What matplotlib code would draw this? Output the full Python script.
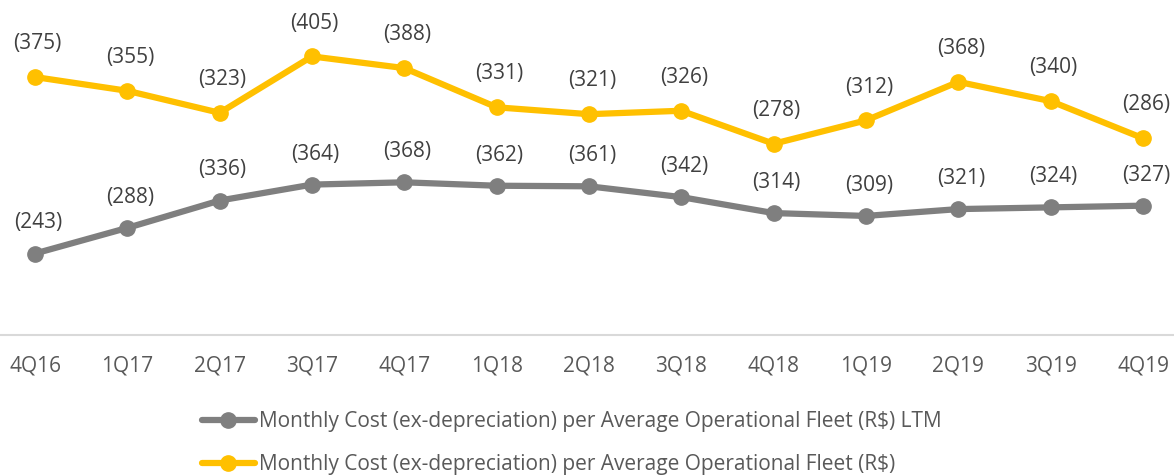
import matplotlib
matplotlib.use("Agg")
import matplotlib.pyplot as plt

quarters = ["4Q16", "1Q17", "2Q17", "3Q17", "4Q17", "1Q18", "2Q18",
            "3Q18", "4Q18", "1Q19", "2Q19", "3Q19", "4Q19"]
cost_quarter = [375, 355, 323, 405, 388, 331, 321, 326, 278, 312, 368, 340, 286]
cost_ltm = [243, 288, 336, 364, 368, 362, 361, 342, 314, 309, 321, 324, 327]

label_quarter = "Monthly Cost (ex-depreciation) per Average Operational Fleet (R$)"
label_ltm = "Monthly Cost (ex-depreciation) per Average Operational Fleet (R$) LTM"

plt.rcParams["font.family"] = ["Open Sans", "DejaVu Sans"]

YELLOW = "#FFC000"
GRAY = "#7F7F7F"
TEXT = "#404040"
FS = 15

W, H = 1174, 475
fig = plt.figure(figsize=(W / 100, H / 100), dpi=100)

x = list(range(len(quarters)))
x0 = 35
step = (1143 - 35) / 12
xlim = (-x0 / step, 12 + (W - 1143) / step)

bottom_px = 335
ax = fig.add_axes([0, 1 - bottom_px / H, 1, bottom_px / H])
ax2 = ax.twinx()

# primary: quarterly (yellow), secondary: LTM (gray)
ax.set_ylim(0, 487)
ax2.set_ylim(100, 688)
for a in (ax, ax2):
    a.set_xlim(*xlim)
    for s in a.spines.values():
        s.set_visible(False)
    a.set_yticks([])
    a.patch.set_visible(False)

ax.spines["bottom"].set_visible(True)
ax.spines["bottom"].set_color("#D9D9D9")
ax.spines["bottom"].set_linewidth(1.5)

l1, = ax.plot(x, cost_quarter, color=YELLOW, lw=4.5, marker="o", ms=11,
              solid_capstyle="round", label=label_quarter, zorder=3)
l2, = ax2.plot(x, cost_ltm, color=GRAY, lw=4.5, marker="o", ms=11,
               solid_capstyle="round", label=label_ltm, zorder=3)

for xi, v in zip(x, cost_quarter):
    ax.annotate(f"({v})", (xi, v), xytext=(2, 24), textcoords="offset points",
                ha="center", va="center", fontsize=FS, color=TEXT)
for xi, v in zip(x, cost_ltm):
    ax2.annotate(f"({v})", (xi, v), xytext=(2, 22), textcoords="offset points",
                 ha="center", va="center", fontsize=FS, color=TEXT)

ax.set_xticks(x)
ax.set_xticklabels(quarters, fontsize=FS, color="#595959")
ax.tick_params(axis="x", length=0, pad=15)

fig.legend(handles=[l2, l1], loc="upper left", bbox_to_anchor=(192 / W, 1 - 401 / H),
           frameon=False, fontsize=FS, handlelength=2.5, handletextpad=0.2,
           labelspacing=1.05, borderpad=0, labelcolor="#595959")

fig.savefig("out.png", dpi=100)
